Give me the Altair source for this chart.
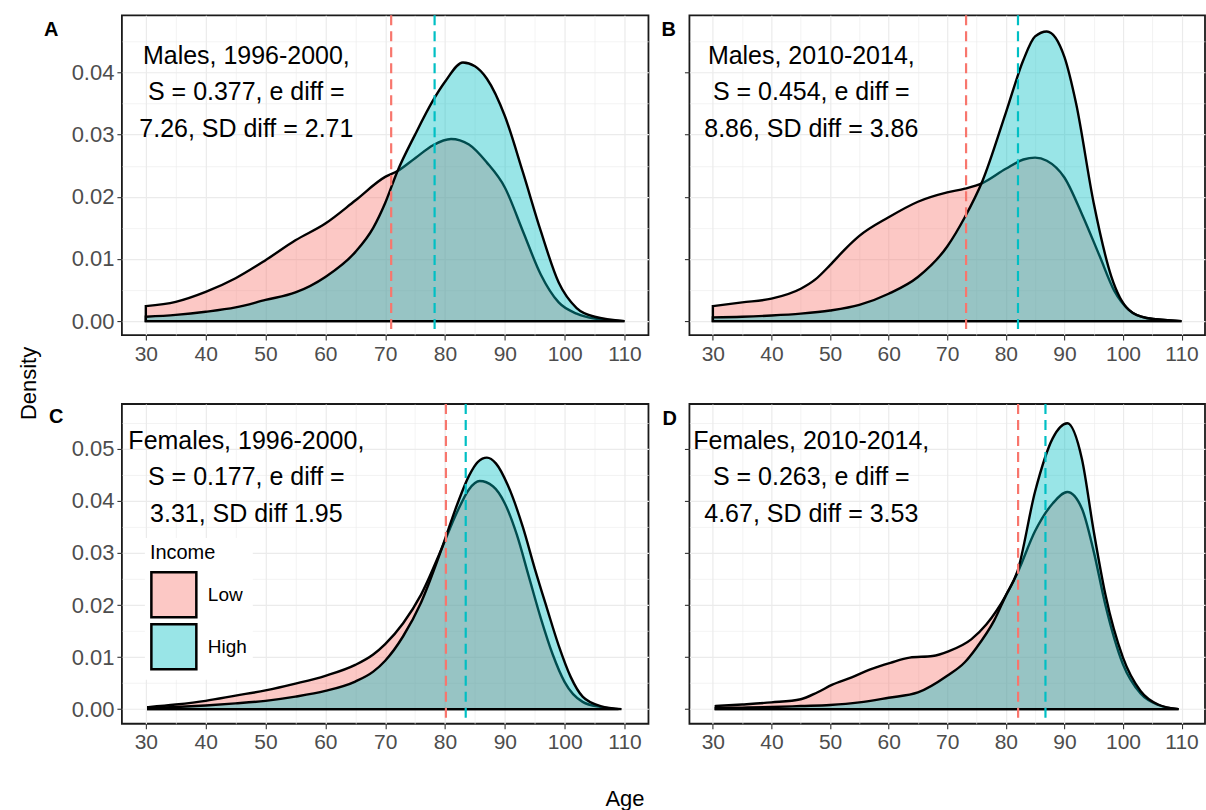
import altair as alt
import pandas as pd

LOW_COLOR = "#F8766D"
HIGH_COLOR = "#00BFC4"
FONT = "Liberation Sans"

# ---- density curves (age, density) for each panel and income group ----
a_low_age = [30, 35, 40, 45, 50, 55, 60, 65, 70, 72, 75, 78, 81, 84, 87, 90, 93, 96, 99, 102, 105, 110]
a_low_den = [0.0024, 0.0031, 0.0047, 0.0069, 0.0098, 0.0130, 0.0157, 0.0194, 0.0232, 0.0241, 0.0262,
             0.0283, 0.0293, 0.0284, 0.0255, 0.0215, 0.0145, 0.0075, 0.0030, 0.0012, 0.0004, 0.0]
a_high_age = [30, 35, 40, 45, 50, 55, 60, 65, 68, 70, 72, 75, 78, 80, 83, 85, 87, 90, 93, 96, 99, 102, 105, 110]
a_high_den = [0.0007, 0.0010, 0.0015, 0.0022, 0.0034, 0.0046, 0.0071, 0.0111, 0.0150, 0.0190, 0.0240,
              0.0300, 0.0355, 0.0385, 0.0416, 0.0410, 0.0390, 0.0330, 0.0240, 0.0145, 0.0062, 0.0021,
              0.0007, 0.0]

b_low_age = [30, 35, 40, 45, 47.5, 50, 52.5, 55, 60, 65, 70, 73, 76, 80, 83, 85, 87, 90, 93, 96, 98.5,
             101, 104, 110]
b_low_den = [0.0024, 0.0030, 0.0036, 0.0052, 0.0067, 0.0090, 0.0115, 0.0137, 0.0167, 0.0192, 0.0207,
             0.0213, 0.0222, 0.0245, 0.0260, 0.0263, 0.0258, 0.0231, 0.0172, 0.0105, 0.0049, 0.0018,
             0.0005, 0.0]
b_high_age = [30, 35, 40, 45, 50, 55, 60, 65, 70, 73, 76, 80, 83, 85, 87, 90, 92, 95, 98, 101, 104, 110]
b_high_den = [0.0006, 0.0007, 0.0009, 0.0012, 0.0017, 0.0026, 0.0044, 0.0071, 0.0120, 0.0167, 0.0225,
              0.0335, 0.0420, 0.0458, 0.0466, 0.0425, 0.0350, 0.0190, 0.0072, 0.0018, 0.0005, 0.0]

c_low_age = [30.4, 35, 40, 45, 50, 55, 60, 65, 68, 70, 73, 76, 79.5, 82, 84, 85.8, 88, 90, 92, 94, 96,
             98, 100, 103, 106, 109]
c_low_den = [0.0004, 0.0009, 0.0016, 0.0026, 0.0036, 0.0049, 0.0064, 0.0085, 0.0105, 0.0125, 0.0165,
             0.0220, 0.0310, 0.0378, 0.0422, 0.0438, 0.0428, 0.0395, 0.0335, 0.0255, 0.0175, 0.0105,
             0.0052, 0.0014, 0.0004, 0.0]
c_high_age = [30.4, 35, 40, 45, 50, 55, 60, 65, 68, 70, 73, 76, 79.5, 82, 84, 85.5, 87, 88.5, 90.5, 93,
              95, 97, 99, 101, 103, 106, 109.5]
c_high_den = [0.0002, 0.0004, 0.0007, 0.0011, 0.0016, 0.0024, 0.0035, 0.0053, 0.0072, 0.0093, 0.0140,
              0.0205, 0.0310, 0.0392, 0.0448, 0.0475, 0.0483, 0.0472, 0.0430, 0.0350, 0.0270, 0.0195,
              0.0122, 0.0062, 0.0024, 0.0006, 0.0]

d_low_age = [30.5, 35, 40, 45, 47.8, 50.4, 53.7, 57, 60.3, 63.6, 67.5, 70.2, 74.1, 76.7, 80, 82, 85, 88,
             90.5, 93, 95, 97, 100, 103, 106, 109.5]
d_low_den = [0.0006, 0.0009, 0.0013, 0.0019, 0.0032, 0.0047, 0.0061, 0.0077, 0.0089, 0.0099, 0.0102,
             0.0111, 0.0134, 0.0163, 0.0218, 0.0262, 0.0342, 0.0395, 0.0417, 0.0385, 0.0303, 0.0200,
             0.0086, 0.0030, 0.0008, 0.0]
d_high_age = [30.5, 35, 40, 45, 50, 55, 60, 65, 70, 73, 75, 78, 80, 82, 85, 88, 90.5, 93, 95, 97, 100,
              103, 106, 109.5]
d_high_den = [0.0002, 0.0003, 0.0004, 0.0006, 0.0008, 0.0013, 0.0022, 0.0032, 0.0064, 0.0090, 0.0118,
              0.0170, 0.0218, 0.0265, 0.0418, 0.0520, 0.0549, 0.0480, 0.0342, 0.0220, 0.0099, 0.0035,
              0.0009, 0.0]

# mean ages (dashed reference lines)
mean_low = [71.0, 73.22, 80.15, 82.10]
mean_high = [78.26, 82.08, 83.46, 86.77]

labels = [
    "Males, 1996-2000,\nS = 0.377, e diff =\n7.26, SD diff = 2.71",
    "Males, 2010-2014,\nS = 0.454, e diff =\n8.86, SD diff = 3.86",
    "Females, 1996-2000,\nS = 0.177, e diff =\n3.31, SD diff 1.95",
    "Females, 2010-2014,\nS = 0.263, e diff =\n4.67, SD diff = 3.53",
]
# anchor of the first text line
label_age = [46.8, 46.8, 46.8, 46.8]
label_den = [0.0427, 0.0427, 0.0515, 0.0515]

x_ticks = list(range(30, 111, 5))
y_ticks_top = [round(i * 0.005, 3) for i in range(10)]
y_ticks_bottom = [round(i * 0.005, 3) for i in range(12)]

MAJOR_X = "datum.value % 10 === 0"
MAJOR_Y = "round(datum.value * 1000) % 10 === 0"


def axis(values, major, label_expr, font_size, show_labels=True):
    return alt.Axis(
        values=values,
        labels=show_labels,
        labelExpr=label_expr,
        labelOverlap=False,
        labelFlush=False,
        labelFont=FONT,
        labelFontSize=font_size,
        labelColor="#4D4D4D",
        labelPadding=3,
        grid=True,
        gridColor="#EBEBEB",
        gridWidth={"condition": {"test": major, "value": 1.2}, "value": 0.6},
        ticks=True,
        tickSize=5,
        tickWidth=1.1,
        tickColor={"condition": {"test": major, "value": "#333333"}, "value": "transparent"},
        domain=False,
        title=None,
    )


def panel(letter, dx, offset, low_age, low_den, high_age, high_den, m_low, m_high,
          label, lab_x, lab_y, y_domain, y_ticks, width, show_ylabels, legend):
    low_df = pd.DataFrame({"Age": low_age, "Density": low_den, "Income": "Low"})
    high_df = pd.DataFrame({"Age": high_age, "Density": high_den, "Income": "High"})

    x = alt.X("Age:Q", scale=alt.Scale(domain=[26, 114], nice=False, zero=False),
              axis=axis(x_ticks, MAJOR_X, f"{MAJOR_X} ? datum.label : ''", 21))
    y = alt.Y("Density:Q", stack=None,
              scale=alt.Scale(domain=y_domain, nice=False, zero=False),
              axis=axis(y_ticks, MAJOR_Y,
                        f"{MAJOR_Y} ? format(datum.value, '.2f') : ''", 22, show_ylabels))
    fill = alt.Fill("Income:N",
                    scale=alt.Scale(domain=["Low", "High"], range=[LOW_COLOR, HIGH_COLOR]),
                    legend=legend)

    area = dict(interpolate="monotone", stroke="black", strokeWidth=2.4)
    low = alt.Chart(low_df).mark_area(**area).encode(x=x, y=y, y2=alt.datum(0), fill=fill)
    high = alt.Chart(high_df).mark_area(**area).encode(x=x, y=y, y2=alt.datum(0), fill=fill)

    rule_low = alt.Chart(pd.DataFrame({"Age": [m_low]})).mark_rule(
        color=LOW_COLOR, strokeWidth=2.2, strokeDash=[10, 6]).encode(x=x)
    rule_high = alt.Chart(pd.DataFrame({"Age": [m_high]})).mark_rule(
        color=HIGH_COLOR, strokeWidth=2.2, strokeDash=[10, 6]).encode(x=x)

    text = alt.Chart(pd.DataFrame({"Age": [lab_x], "Density": [lab_y], "label": [label]})).mark_text(
        font=FONT, fontSize=25, lineBreak="\n", lineHeight=36.5, color="black",
        align="center", baseline="middle").encode(x=x, y=y, text="label:N")

    return alt.layer(low, high, rule_low, rule_high, text).properties(
        width=width, height=320,
        title=alt.TitleParams(letter, orient="top", anchor="start", frame="group",
                              offset=offset, dx=dx,
                              font=FONT, fontSize=20, fontWeight="bold", color="black"),
    )


legend_c = alt.Legend(
    orient="none", legendX=23, legendY=134, title="Income",
    titleFont=FONT, titleFontSize=20, titleFontWeight="normal", titleColor="black",
    titlePadding=8, labelFont=FONT, labelFontSize=19, labelColor="black", labelOffset=10,
    symbolType="square", symbolSize=2025, symbolStrokeColor="black", symbolStrokeWidth=2.5,
    rowPadding=-8, padding=5, fillColor="white",
)

top_dom = [-0.00225, 0.0492]
bot_dom = [-0.0028, 0.0586]

pa = panel("A", -78, -26, a_low_age, a_low_den, a_high_age, a_high_den, mean_low[0], mean_high[0],
           labels[0], label_age[0], label_den[0], top_dom, y_ticks_top, 527, True, None)
pb = panel("B", -28, -26, b_low_age, b_low_den, b_high_age, b_high_den, mean_low[1], mean_high[1],
           labels[1], label_age[1], label_den[1], top_dom, y_ticks_top, 516, False, None)
pc = panel("C", -73, -24, c_low_age, c_low_den, c_high_age, c_high_den, mean_low[2], mean_high[2],
           labels[2], label_age[2], label_den[2], bot_dom, y_ticks_bottom, 527, True, legend_c)
pd_ = panel("D", -27, -26, d_low_age, d_low_den, d_high_age, d_high_den, mean_low[3], mean_high[3],
            labels[3], label_age[3], label_den[3], bot_dom, y_ticks_bottom, 516, False, None)

grid = alt.concat(
    pa, pb, pc, pd_, columns=2, spacing={"row": 69, "column": 41}, bounds="flush",
    title=alt.TitleParams("Density", orient="left", anchor="middle", offset=2,
                          font=FONT, fontSize=22, fontWeight="normal", color="black"),
).resolve_scale(fill="independent")

chart = alt.vconcat(
    grid,
    title=alt.TitleParams("Age", orient="bottom", anchor="middle", offset=35, dx=13,
                          font=FONT, fontSize=22, fontWeight="normal", color="black"),
).properties(
    padding={"left": 18, "top": 13, "right": 0, "bottom": 0},
    background="white",
).configure_view(
    stroke="#1A1A1A", strokeWidth=1.8,
).configure_area(
    fillOpacity=0.4,
)

chart.save("out.html", embed_options={"renderer": "svg", "actions": False})
